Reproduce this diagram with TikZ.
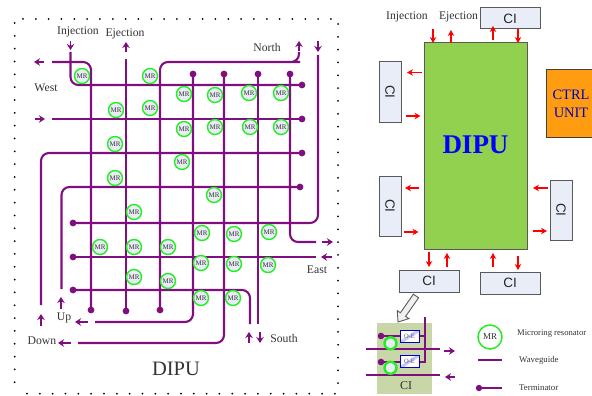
\documentclass[tikz,border=0pt]{standalone}
\usepackage{fontspec}
\setmainfont{Liberation Serif}
\setsansfont{Liberation Sans}
\usetikzlibrary{arrows.meta}
\definecolor{wgpurple}{HTML}{7F0F7F}
\definecolor{ringgreen}{HTML}{22EE22}
\definecolor{ringfill}{HTML}{E8ECF5}
\definecolor{cibox}{HTML}{E8EDF7}
\definecolor{cipatch}{HTML}{C8D6A8}
\definecolor{dipugreen}{HTML}{92D050}
\definecolor{ctrlorange}{HTML}{FF9C10}
\definecolor{labelgray}{HTML}{333333}
\tikzset{
  wg/.style={wgpurple, line width=2.1pt, rounded corners=8pt},
  wgarrow/.style={wgpurple, line width=1.4pt, -{Stealth[length=6pt,width=7.5pt]}},
  ctrlarrow/.style={red, line width=1.1pt, -{Stealth[length=6pt,width=6.5pt]}},
  dots/.style={line width=2pt, line cap=round, dash pattern=on 0pt off 12.83pt},
  lab/.style={text=labelgray, font=\fontsize{11.7}{12}\selectfont, inner sep=0pt},
  mr/.style={circle, draw=ringgreen, fill=ringfill, line width=1.4pt, minimum size=15pt, inner sep=0pt, text=labelgray, font=\fontsize{7}{7}\selectfont},
  cinode/.style={draw=black!65, fill=cibox, line width=1pt, inner sep=0pt, font=\sffamily\fontsize{13.5}{14}\selectfont, text=black!85},
  oe/.style={draw=blue!80!black, fill=white, line width=1pt, minimum width=19pt, minimum height=12.5pt, inner sep=0pt, text=black!65, font=\fontsize{6.5}{6.5}\selectfont,
    path picture={\draw[blue!22, line width=3pt] (path picture bounding box.south west) -- (path picture bounding box.north east);}},
  smallring/.style={circle, draw=ringgreen, fill=ringfill, line width=2.4pt, minimum size=12pt, inner sep=0pt},
  legtext/.style={text=labelgray, anchor=west, inner sep=0pt}
}
\begin{document}
\begin{tikzpicture}[x=1pt,y=-1pt]
    \useasboundingbox (0,0) rectangle (592,396);

    % Dotted frame
    \coordinate (fa) at (23,19); \coordinate (fb) at (333,19);
    \coordinate (fc) at (14.7,23); \coordinate (fd) at (14.7,386);
    \coordinate (fe) at (27,393.7); \coordinate (ff) at (337,393.7);
    \coordinate (fg) at (338,24); \coordinate (fh) at (338,386);
    \draw[dots] (fa)--(fb); \draw[dots] (fc)--(fd); \draw[dots] (fe)--(ff); \draw[dots] (fg)--(fh);

    % Waveguide ends
    \coordinate (inj) at (70.5,52); \coordinate (eje) at (126,59);
    \coordinate (westout) at (52,62); \coordinate (westin) at (52,119);
    \coordinate (northout) at (299,52); \coordinate (northin) at (318,55);
    \coordinate (eastout) at (316,242); \coordinate (eastin) at (316,257);
    \coordinate (southout) at (250,324); \coordinate (southin) at (258,324);
    \coordinate (downin) at (41,305); \coordinate (upin) at (61.5,289);
    \coordinate (upout) at (95,322); \coordinate (downout) at (78,343);

    % Terminators
    \coordinate (ta) at (302,85); \coordinate (tb) at (302,119); \coordinate (tc) at (302,153); \coordinate (td) at (300,187);
    \coordinate (te) at (73,223); \coordinate (tf) at (73,257); \coordinate (tg) at (73,290);
    \coordinate (th) at (91,310); \coordinate (ti) at (126,311); \coordinate (tj) at (160,310);
    \coordinate (tk) at (193,74); \coordinate (tl) at (224,74); \coordinate (tm) at (258,74); \coordinate (tn) at (290,74);

    % Waveguides
    \draw[wg] (westout) -| (th);
    \draw[wg] (inj) |- (ta);
    \draw[wg] (eje) -- (ti);
    \draw[wg] (westin) -- (tb);
    \draw[wg] (tc) -| (downin);
    \draw[wg] (td) -| (upin);
    \draw[wg] (tj) |- (292,62) -| (northout);
    \draw[wg] (tk) |- (upout);
    \draw[wg] (tl) |- (downout);
    \draw[wg] (tm) -- (southin);
    \draw[wg] (tn) |- (eastout);
    \draw[wg] (northin) |- (te);
    \draw[wg] (eastin) -- (tf);
    \draw[wg] (tg) -| (southout);
    \foreach \p in {ta,tb,tc,td,te,tf,tg,th,ti,tj,tk,tl,tm,tn} \fill[wgpurple] (\p) circle (3.4pt);

    % Port arrows
    \foreach \i/\xa/\ya/\xb/\yb in {1/44/62/34/62, 2/35/119/45/119, 3/70.5/41/70.5/50, 4/126/52/126/42,
        5/299/51/299/41, 6/318/41/318/52, 7/322/242/333/242, 8/332/257/321/257,
        9/249/343/249/332, 10/260/332/260/343, 11/61/309/61/297, 12/41/326/41/314,
        13/88/322/75/322, 14/71/343/58/343} {
      \coordinate (pa\i) at (\xa,\ya); \coordinate (pb\i) at (\xb,\yb);
      \draw[wgarrow] (pa\i) -- (pb\i);
    }

    % Microrings
    \foreach \i/\x/\y in {1/82/76, 2/150/76, 3/184/94, 4/116/110, 5/150/108, 6/184/129, 7/115/144, 8/182/162, 9/115/178,
        10/215/95, 11/249/93, 12/281/93, 13/215/127, 14/250/127, 15/281/127, 16/214/195,
        17/134/212, 18/100/247, 19/134/247, 20/168/247, 21/134/277, 22/168/281,
        23/202/233, 24/234/234, 25/269/232, 26/201/263, 27/234/264, 28/268/265, 29/201/298, 30/233/298}
      \node[mr] (mr\i) at (\x,\y) {MR};

    \node[lab] (linj) at (78,32) {Injection}; \node[lab] (leje) at (125,33.5) {Ejection};
    \node[lab] (lwest) at (46,88) {West}; \node[lab] (lnorth) at (267,47) {North};
    \node[lab] (least) at (317,270) {East}; \node[lab] (lsouth) at (284,338) {South};
    \node[lab] (lup) at (64,318) {Up}; \node[lab] (ldown) at (42,341) {Down};
    \node[lab, font=\fontsize{20.5}{21}\selectfont] (ltitle) at (176,369) {DIPU};

    % Right side
    \node[lab] (rinj) at (407,17) {Injection}; \node[lab] (reje) at (458.5,17) {Ejection};
    \node[draw=black!65, fill=dipugreen, line width=1pt, minimum width=103pt, minimum height=206pt, inner sep=0pt,
        text=blue, font=\bfseries\fontsize{27}{28}\selectfont] (dipu) at (475.5,146) {\raisebox{2pt}{DIPU}};
    \node[cinode, minimum width=60pt, minimum height=21pt] (citop) at (510,18.5) {CI};
    \node[cinode, minimum width=60pt, minimum height=22pt] (cibl) at (429,281) {CI};
    \node[cinode, minimum width=60pt, minimum height=22pt] (cibr) at (510,283) {CI};
    \node[cinode, minimum width=60pt, minimum height=22pt, rotate=-90] (cila) at (390,92) {CI};
    \node[cinode, minimum width=60pt, minimum height=22pt, rotate=-90] (cilb) at (390,206) {CI};
    \node[cinode, minimum width=60pt, minimum height=22pt, rotate=-90] (cir) at (561,210) {CI};
    \node[draw=black!75, fill=ctrlorange, line width=1pt, minimum width=50pt, minimum height=67pt, inner sep=0pt, align=center,
        text=blue!75!black, font=\fontsize{14.4}{18}\selectfont, text width=50pt, xshift=-1pt] (ctrl) at (572,103.5) {CTRL\\UNIT};

    % Control arrows
    \foreach \i/\xa/\ya/\xb/\yb in {1/433/29/433/43, 2/451/43/451/30, 3/493/40/493/26, 4/518/29/518/43,
        5/421.5/72.5/407/72.5, 6/406/116/420.5/116, 7/419/188/405/188, 8/404/232/418.5/232,
        9/547.5/188/533/188, 10/532.5/231/547/231,
        11/429/252/429/267, 12/447/267/447/253, 13/493/267/493/253, 14/518/256/518/270} {
      \coordinate (ca\i) at (\xa,\ya); \coordinate (cb\i) at (\xb,\yb);
      \draw[ctrlarrow] (ca\i) -- (cb\i);
    }

    % CI detail
    \draw[black!65, fill=black!6, line width=0.9pt] (413.4,294.2) -- (418.6,297.8) -- (405.6,316.4) -- (408.9,318.6) -- (398,322) -- (397.3,310.6) -- (400.4,312.8) -- cycle;
    \node[fill=cipatch, minimum width=55pt, minimum height=71pt, inner sep=0pt] (patch) at (404.5,358.5) {};
    \coordinate (busa) at (366,349); \coordinate (busb) at (439.5,349);
    \coordinate (busc) at (366,375); \coordinate (busd) at (439.5,375);
    \coordinate (tpa) at (381,336); \coordinate (tpb) at (381,362);
    \coordinate (vtop) at (425,317);
    \draw[wgpurple, line width=1.8pt] (busa)--(busb);
    \draw[wgpurple, line width=1.8pt] (busc)--(busd);
    \draw[wgpurple, line width=1.3pt] (tpa)--(400,336);
    \draw[wgpurple, line width=1.3pt] (tpb)--(400,362);
    \draw[wgpurple, line width=1.3pt] (419,336) -| (vtop);
    \draw[wgpurple, line width=1.3pt] (419,362) -| (vtop);
    \node[oe] (oea) at (409.5,336.5) {O-E};
    \node[oe] (oeb) at (409.5,361.5) {O-E};
    \foreach \p in {tpa,tpb} \fill[wgpurple] (\p) circle (3.3pt);
    \node[smallring] (rga) at (390.5,343.3) {};
    \node[smallring] (rgb) at (390.5,367.8) {};
    \coordinate (oarra) at (444,351); \coordinate (oarrb) at (455,351);
    \coordinate (oarrc) at (455,377); \coordinate (oarrd) at (445,377);
    \draw[wgarrow] (oarra)--(oarrb); \draw[wgarrow] (oarrc)--(oarrd);
    \node[lab, font=\fontsize{12}{12}\selectfont] (cilabel) at (406,386) {CI};

    % Legend
    \node[mr, fill=white, minimum size=24pt, line width=1.5pt, font=\fontsize{9}{9}\selectfont] (legmr) at (490,337) {MR};
    \coordinate (lega) at (478,360); \coordinate (legb) at (502,360);
    \coordinate (legc) at (479,388); \coordinate (legd) at (502,388);
    \draw[wgpurple, line width=2pt] (lega)--(legb);
    \draw[wgpurple, line width=2pt] (legc)--(legd);
    \fill[wgpurple] (legc) circle (3.2pt);
    \node[legtext, font=\fontsize{8.6}{9}\selectfont] (legtmr) at (517,334) {Microring resonator};
    \node[legtext, font=\fontsize{8.8}{9}\selectfont] (legtwg) at (519,360) {Waveguide};
    \node[legtext, font=\fontsize{8.8}{9}\selectfont] (legtt) at (519,388) {Terminator};
\end{tikzpicture}
\end{document}
